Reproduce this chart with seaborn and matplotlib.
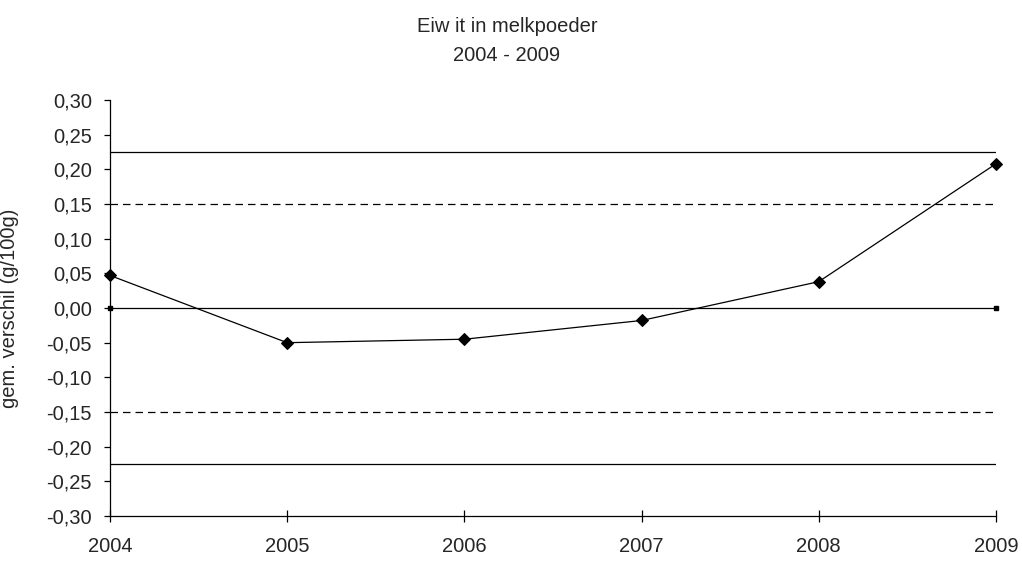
import pandas as pd
import seaborn as sns
import matplotlib.pyplot as plt
from matplotlib.ticker import FuncFormatter

# Data
jaren = [2004, 2005, 2006, 2007, 2008, 2009]
gem_verschil = [0.047, -0.050, -0.045, -0.018, 0.038, 0.208]
nul_lijn = [0.0, 0.0]
grens_buiten = 0.225
grens_binnen = 0.15
y_ticks = [-0.30, -0.25, -0.20, -0.15, -0.10, -0.05, 0.00, 0.05, 0.10, 0.15, 0.20, 0.25, 0.30]

sns.set_style('white')
plt.rcParams['font.family'] = ['Liberation Sans', 'DejaVu Sans']
fs = 14.5

df = pd.DataFrame({'Jaar': jaren, 'Verschil': gem_verschil})

fig = plt.figure(figsize=(10.22, 5.61), dpi=100)
ax = fig.add_axes([0.1076, 0.0802, 0.8669, 0.7415])

# Grenslijnen
for g in (grens_buiten, -grens_buiten):
    ax.axhline(g, color='black', linewidth=0.9)
for g in (grens_binnen, -grens_binnen):
    ax.axhline(g, color='black', linewidth=0.9, linestyle=(0, (6, 4)))

# Nullijn met kleine markers aan de uiteinden
ax.plot([jaren[0], jaren[-1]], nul_lijn, color='black', linewidth=0.9,
        marker='s', markersize=2.5, clip_on=False)

sns.lineplot(data=df, x='Jaar', y='Verschil', ax=ax, color='black',
             linewidth=0.9, marker='D', markersize=6.5, markeredgecolor='black',
             clip_on=False)

ax.set_xlim(jaren[0], jaren[-1])
ax.set_ylim(-0.30, 0.30)
ax.set_xticks(jaren)
ax.set_yticks(y_ticks)
ax.yaxis.set_major_formatter(FuncFormatter(lambda v, p: f'{v:.2f}'.replace('.', ',').replace('-0,00', '0,00')))

for s in ('top', 'right'):
    ax.spines[s].set_visible(False)
for s in ('left', 'bottom'):
    ax.spines[s].set_color('black')
    ax.spines[s].set_linewidth(0.9)

ax.tick_params(axis='y', direction='out', length=4, width=0.9, labelsize=fs, color='black', left=True, pad=9)
ax.tick_params(axis='x', direction='inout', length=8, width=0.9, labelsize=fs, color='black', bottom=True, pad=11)

ax.set_xlabel('')
ax.set_ylabel('')
fig.text(10 / 1022, 1 - 308 / 561, 'gem. verschil (g/100g)', rotation=90,
         ha='center', va='center', fontsize=fs)

fig.text(507 / 1022, 1 - 32 / 561, 'Eiw it in melkpoeder', ha='center', va='baseline', fontsize=fs)
fig.text(507 / 1022, 1 - 61 / 561, '2004 - 2009', ha='center', va='baseline', fontsize=fs)

fig.savefig('out.png', dpi=100)
